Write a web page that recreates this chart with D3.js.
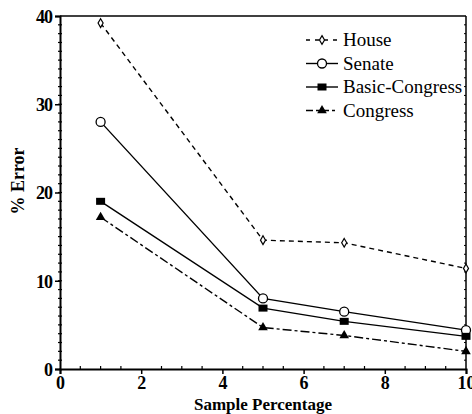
<!DOCTYPE html>
<html>
<head>
<meta charset="utf-8">
<script src="https://cdn.jsdelivr.net/npm/d3@7"></script>
<style>
  body { margin: 0; background: #fff; }
  svg { display: block; }
</style>
</head>
<body>
<div id="canvas"></div>
<script>
// datos
var porcentajes = [1, 5, 7, 10];
var house = [39.2, 14.6, 14.3, 11.4];
var senate = [28.0, 8.0, 6.5, 4.4];
var basicCongress = [19.0, 6.9, 5.4, 3.7];
var congress = [17.2, 4.7, 3.8, 2.0];
var seriesNombres = ["House", "Senate", "Basic-Congress", "Congress"];
var xTicks = [0, 2, 4, 6, 8, 10];
var yTicks = [0, 10, 20, 30, 40];

var fuente = "Times New Roman";

var width = 472;
var height = 414;
var margin = {top: 16, right: 6, bottom: 45, left: 60};

var svg = d3.select("#canvas").append("svg")
    .attr("width", width)
    .attr("height", height)
    .attr("font-family", fuente);

var x = d3.scaleLinear().domain([0, 10]).range([margin.left, width - margin.right]);
var y = d3.scaleLinear().domain([0, 40]).range([height - margin.bottom, margin.top]);

var series = [
    {nombre: seriesNombres[0], valores: house, dash: "5,4", marca: "diamante"},
    {nombre: seriesNombres[1], valores: senate, dash: null, marca: "circulo"},
    {nombre: seriesNombres[2], valores: basicCongress, dash: null, marca: "cuadrado"},
    {nombre: seriesNombres[3], valores: congress, dash: "9,3,3,3", marca: "triangulo"}
];

// marco
svg.append("line").attr("x1", x(0)).attr("x2", x(10)).attr("y1", y(40)).attr("y2", y(40))
    .attr("stroke", "#000").attr("stroke-width", 1.5);
svg.append("line").attr("x1", x(10)).attr("x2", x(10)).attr("y1", y(40)).attr("y2", y(0))
    .attr("stroke", "#000").attr("stroke-width", 1.5);

// ejes
var ejeY = svg.append("g")
    .attr("transform", "translate(" + x(0) + ",0)")
    .call(d3.axisLeft(y).tickValues(yTicks).tickSize(5).tickPadding(3));
var ejeX = svg.append("g")
    .attr("transform", "translate(0," + y(0) + ")")
    .call(d3.axisBottom(x).tickValues(xTicks).tickSize(5).tickPadding(2));

[ejeX, ejeY].forEach(function(eje) {
    eje.attr("font-family", fuente);
    eje.select(".domain").attr("stroke-width", 2);
    eje.selectAll(".tick line").attr("stroke-width", 1.5);
    eje.selectAll("text")
        .attr("font-family", fuente)
        .attr("font-size", 18)
        .attr("font-weight", "bold")
        .attr("fill", "#000");
});
ejeY.selectAll("text").attr("dy", "0.35em").attr("letter-spacing", "-1px");

// ticks menores
svg.append("g").selectAll("line")
    .data(d3.range(1, 40))
    .enter().append("line")
    .attr("x1", x(0) - 2).attr("x2", x(0) + 2)
    .attr("y1", function(d) { return y(d); })
    .attr("y2", function(d) { return y(d); })
    .attr("stroke", "#000").attr("stroke-width", 1.2);
svg.append("g").selectAll("line")
    .data(d3.range(1, 40))
    .enter().append("line")
    .attr("x1", x(10) - 2).attr("x2", x(10))
    .attr("y1", function(d) { return y(d); })
    .attr("y2", function(d) { return y(d); })
    .attr("stroke", "#000").attr("stroke-width", 1);
svg.append("g").selectAll("line")
    .data(d3.range(0.5, 10, 0.5).filter(function(d) { return d % 2 !== 0; }))
    .enter().append("line")
    .attr("x1", function(d) { return x(d); })
    .attr("x2", function(d) { return x(d); })
    .attr("y1", y(0) - 3).attr("y2", y(0))
    .attr("stroke", "#000").attr("stroke-width", 1.2);

// titulos de ejes
svg.append("text")
    .attr("x", 263)
    .attr("y", 410)
    .attr("text-anchor", "middle")
    .attr("font-family", fuente)
    .attr("font-size", 17)
    .attr("font-weight", "bold")
    .text("Sample Percentage");

svg.append("text")
    .attr("transform", "translate(24," + y(21.3) + ") rotate(-90)")
    .attr("text-anchor", "middle")
    .attr("font-family", fuente)
    .attr("font-size", 18)
    .attr("font-weight", "bold")
    .text("% Error");

// lineas
var linea = d3.line()
    .x(function(d, i) { return x(porcentajes[i]); })
    .y(function(d) { return y(d); });

function dibujarMarca(g, tipo, cx, cy) {
    if (tipo === "diamante") {
        g.append("path")
            .attr("d", d3.symbol().type(d3.symbolDiamond).size(22)())
            .attr("transform", "translate(" + cx + "," + cy + ")")
            .attr("fill", "#fff").attr("stroke", "#000").attr("stroke-width", 1.2);
    } else if (tipo === "circulo") {
        g.append("circle").attr("cx", cx).attr("cy", cy).attr("r", 4.5)
            .attr("fill", "#fff").attr("stroke", "#000").attr("stroke-width", 1.3);
    } else if (tipo === "cuadrado") {
        g.append("rect").attr("x", cx - 4.5).attr("y", cy - 3.5).attr("width", 9).attr("height", 7)
            .attr("fill", "#000");
    } else {
        g.append("path")
            .attr("d", d3.symbol().type(d3.symbolTriangle).size(40)())
            .attr("transform", "translate(" + cx + "," + cy + ")")
            .attr("fill", "#000");
    }
}

series.forEach(function(s) {
    var g = svg.append("g");
    g.append("path")
        .datum(s.valores)
        .attr("d", linea)
        .attr("fill", "none")
        .attr("stroke", "#000")
        .attr("stroke-width", 1.4)
        .attr("stroke-dasharray", s.dash);
    s.valores.forEach(function(v, i) {
        dibujarMarca(g, s.marca, x(porcentajes[i]), y(v));
    });
});

// leyenda
var leyenda = svg.append("g");
series.forEach(function(s, i) {
    var ly = 40 + i * 23.5;
    leyenda.append("line")
        .attr("x1", 306).attr("x2", 338).attr("y1", ly).attr("y2", ly)
        .attr("stroke", "#000").attr("stroke-width", 1.4)
        .attr("stroke-dasharray", s.dash === "5,4" ? "4,5" : (s.dash ? "7,3,3,3" : null));
    dibujarMarca(leyenda, s.marca, 322, ly);
    leyenda.append("text")
        .attr("x", 343).attr("y", ly + 6)
        .attr("font-family", fuente)
        .attr("font-size", 19)
        .text(s.nombre);
});
</script>
</body>
</html>
